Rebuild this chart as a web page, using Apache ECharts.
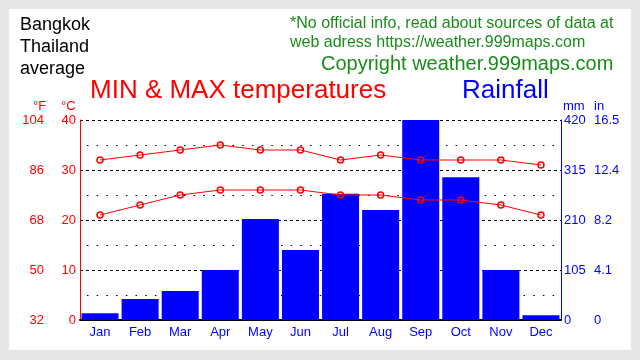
<!DOCTYPE html>
<html>
<head>
<meta charset="utf-8">
<script src="https://cdn.jsdelivr.net/npm/echarts@6/dist/echarts.min.js"></script>
<style>html,body{margin:0;padding:0;background:#e6e6e6;}#c{width:640px;height:360px;}</style>
</head>
<body>
<div id="c"></div>
<script>
const months = ['Jan','Feb','Mar','Apr','May','Jun','Jul','Aug','Sep','Oct','Nov','Dec'];
const maxTemp = [32,33,34,35,34,34,32,33,32,32,32,31];
const minTemp = [21,23,25,26,26,26,25,25,24,24,23,21];
const rainfall = [14,44,61,105,212,147,265,231,420,300,105,10];
const cLabels = ['0','10','20','30','40'];
const fLabels = ['32','50','68','86','104'];
const mmLabels = ['0','105','210','315','420'];
const inLabels = ['0','4.1','8.2','12.4','16.5'];

const RED = '#ff0000', BLUE = '#0000ff', GREEN = '#1a8c1a';
const FONT = '"Liberation Sans", Arial, sans-serif';

const chart = echarts.init(document.getElementById('c'), null, {renderer:'canvas'});
chart.setOption({
  backgroundColor: '#e6e6e6',
  animation: false,
  textStyle: {fontFamily: FONT},
  grid: {left: 80, right: 79, top: 120, bottom: 40, containLabel: false},
  graphic: [
    {type:'rect', z:-100, silent:true, shape:{x:9,y:9,width:622,height:341}, style:{fill:'#ffffff'}},
    {type:'text', left:20, top:14, style:{text:'Bangkok\nThailand\naverage', fill:'#000', font:'18px '+FONT, lineHeight:22}},
    {type:'text', left:290, top:14, style:{text:'*No official info, read about sources of data at\nweb adress https://weather.999maps.com', fill:GREEN, font:'16px '+FONT, lineHeight:19}},
    {type:'text', left:321, top:54, style:{text:'Copyright weather.999maps.com', fill:GREEN, font:'20px '+FONT}},
    {type:'text', left:90, top:78, style:{text:'MIN & MAX temperatures', fill:RED, font:'26px '+FONT}},
    {type:'text', left:462, top:78, style:{text:'Rainfall', fill:BLUE, font:'26px '+FONT}},
    {type:'text', left:33, top:100, style:{text:'°F', fill:RED, font:'13px '+FONT}},
    {type:'text', left:61, top:100, style:{text:'°C', fill:RED, font:'13px '+FONT}},
    {type:'text', left:563, top:100, style:{text:'mm', fill:BLUE, font:'13px '+FONT}},
    {type:'text', left:594, top:100, style:{text:'in', fill:BLUE, font:'13px '+FONT}}
  ],
  xAxis: {
    type:'category', data: months, boundaryGap:true,
    axisLine:{show:true, lineStyle:{color:'#000', width:2}},
    axisTick:{show:false},
    axisLabel:{color:BLUE, fontSize:13, margin:6, fontFamily:FONT},
    splitLine:{show:false}
  },
  yAxis: [
    {type:'value', position:'left', min:0, max:40, interval:10,
     axisLine:{show:true, lineStyle:{color:RED, width:1}},
     axisTick:{show:false},
     axisLabel:{color:RED, fontSize:13, margin:4, fontFamily:FONT, formatter:v=>cLabels[Math.round(v/10)]},
     splitLine:{show:true, lineStyle:{color:'#000', type:[3,3], width:1}},
     minorTick:{show:false, splitNumber:2},
     minorSplitLine:{show:true, lineStyle:{color:'#000', type:[1.5,8.2], dashOffset:-7, width:1}}
    },
    {type:'value', position:'left', min:0, max:40, interval:10,
     axisLine:{show:false}, axisTick:{show:false}, splitLine:{show:false},
     axisLabel:{color:RED, fontSize:13, margin:36, fontFamily:FONT, formatter:v=>fLabels[Math.round(v/10)]}
    },
    {type:'value', position:'right', min:0, max:420, interval:105,
     axisLine:{show:true, lineStyle:{color:BLUE, width:1}},
     axisTick:{show:false}, splitLine:{show:false},
     axisLabel:{color:BLUE, fontSize:13, margin:3, fontFamily:FONT, formatter:v=>mmLabels[Math.round(v/105)]}
    },
    {type:'value', position:'right', min:0, max:420, interval:105,
     axisLine:{show:false}, axisTick:{show:false}, splitLine:{show:false},
     axisLabel:{color:BLUE, fontSize:13, margin:33, fontFamily:FONT, formatter:v=>inLabels[Math.round(v/105)]}
    }
  ],
  series: [
    {type:'bar', yAxisIndex:2, data:rainfall, barWidth:37, itemStyle:{color:BLUE}, z:2},
    {type:'line', yAxisIndex:0, data:maxTemp, symbol:'circle', symbolSize:6,
     lineStyle:{color:RED, width:1}, itemStyle:{color:'rgba(255,255,255,0)', borderColor:RED, borderWidth:1.5}, z:3},
    {type:'line', yAxisIndex:0, data:minTemp, symbol:'circle', symbolSize:6,
     lineStyle:{color:RED, width:1}, itemStyle:{color:'rgba(255,255,255,0)', borderColor:RED, borderWidth:1.5}, z:3}
  ]
});
</script>
</body>
</html>
